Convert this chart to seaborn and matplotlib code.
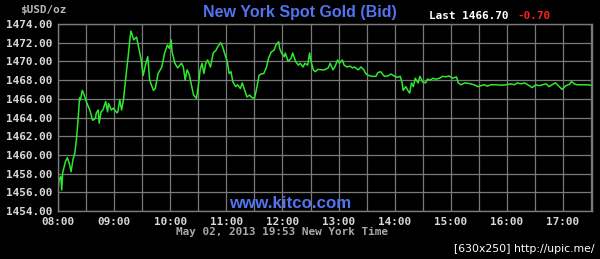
import matplotlib
matplotlib.use("Agg")
import matplotlib.pyplot as plt
import matplotlib.dates as mdates
import seaborn as sns
import pandas as pd
import numpy as np

# ---- data ----
session_start = "2013-05-02 08:00"
minutes_since_0800 = [0,1,3,4,5,8,10,12,14,16,
    18,20,22,23,24,26,28,31,34,37,
    40,41,43,44,46,48,51,53,54,57,
    59,63,64,66,68,70,72,73,75,77,
    78,80,81,84,86,89,91,94,96,98,
    102,104,107,111,114,117,119,121,122,125,
    128,132,134,136,138,140,143,145,148,150,
    152,154,156,158,160,163,166,169,171,174,
    176,178,181,183,185,187,190,192,195,197,
    200,202,205,207,210,212,215,217,220,223,
    225,228,231,233,236,237,239,242,243,246,
    249,251,254,257,259,262,264,267,269,271,
    273,275,278,282,285,289,291,294,296,299,
    301,304,306,309,312,315,317,321,324,327,
    329,332,336,340,342,345,347,349,353,356,
    360,363,366,368,369,372,374,376,378,380,
    382,385,387,390,393,395,398,401,404,408,
    411,415,418,422,426,428,431,435,439,
    445,449,452,456,459,463,468,474,479,484,
    488,491,495,499,504,507,511,515,518,522,
    525,529,532,536,539,543,547,549,552,555,
    561,566,570]
bid_price = [1456.25,1457.3,1457.7,1456.25,1458.1,1459.3,1459.7,1459.1,1458.2,1459.5,
    1460.2,1461.95,1464.5,1466.1,1465.9,1466.9,1466.4,1465.5,1464.8,1463.7,
    1463.9,1464.5,1464.8,1463.4,1464.6,1464.8,1465.7,1464.6,1465.5,1464.8,
    1465.0,1464.5,1464.6,1465.9,1464.8,1465.9,1467.8,1468.75,1470.5,1472.5,
    1473.25,1472.6,1472.3,1472.6,1471.6,1470.15,1468.5,1469.8,1470.5,1468.0,
    1466.9,1467.1,1468.7,1469.4,1470.9,1471.75,1471.4,1472.3,1471.0,1469.8,
    1469.3,1469.8,1469.4,1468.0,1469.1,1468.7,1467.3,1466.4,1466.05,1467.3,
    1469.1,1469.8,1468.7,1469.8,1470.15,1469.4,1470.9,1471.2,1471.6,1472.0,
    1471.6,1470.9,1470.0,1468.7,1468.9,1467.8,1467.3,1467.5,1467.1,1467.7,
    1466.8,1466.2,1466.4,1466.15,1466.05,1466.9,1468.5,1468.65,1468.7,1469.4,
    1470.3,1471.0,1471.2,1471.75,1472.1,1471.4,1470.9,1470.5,1470.9,1470.0,
    1470.3,1470.9,1470.0,1469.6,1469.8,1469.4,1469.8,1469.6,1470.9,1469.8,
    1469.1,1468.9,1469.15,1469.1,1469.1,1469.3,1469.8,1469.1,1469.4,1470.15,
    1469.8,1470.15,1469.6,1469.4,1469.5,1469.3,1469.4,1469.1,1469.4,1469.1,
    1468.7,1468.5,1468.4,1468.4,1468.8,1468.9,1468.65,1468.4,1468.45,1468.65,
    1468.4,1468.3,1468.4,1467.7,1466.9,1467.3,1466.9,1466.6,1467.7,1467.3,
    1468.2,1467.7,1468.4,1467.8,1467.7,1468.1,1468.0,1468.2,1468.1,1468.2,
    1468.4,1468.35,1468.45,1468.2,1468.35,1467.7,1467.5,1467.7,1467.65,
    1467.5,1467.3,1467.4,1467.5,1467.35,1467.5,1467.5,1467.45,1467.5,1467.6,
    1467.5,1467.7,1467.6,1467.7,1467.4,1467.2,1467.5,1467.4,1467.5,1467.6,
    1467.3,1467.55,1467.7,1467.3,1467.0,1467.4,1467.55,1467.85,1467.6,1467.5,
    1467.5,1467.5,1467.45]
y_ticks = [1454, 1456, 1458, 1460, 1462, 1464, 1466, 1468, 1470, 1472, 1474]
title_text = "New York Spot Gold (Bid)"
last_text = "Last 1466.70"
change_text = "-0.70"
unit_text = "$USD/oz"
stamp_text = "May 02, 2013 19:53 New York Time"
site_text = "www.kitco.com"
credit_text = "[630x250] http://upic.me/"

start = pd.Timestamp(session_start)
df = pd.DataFrame({
    "time": start + pd.to_timedelta(minutes_since_0800, unit="m"),
    "price": bid_price,
})

# ---- style ----
sns.set_style("dark")
plt.rcParams["font.family"] = ["DejaVu Sans"]
GRID = "#7a7a7a"
LABEL = "#d8d8d8"
BLUE = "#5274f0"
MONO = "DejaVu Sans Mono"
FS = 7.9

fig = plt.figure(figsize=(6.0, 2.59), dpi=100, facecolor="black")
ax = fig.add_axes([58/600, 48/259, 534/600, 187/259])
ax.set_facecolor("black")

sns.lineplot(data=df, x="time", y="price", ax=ax, color="#2ee82e",
             linewidth=1.1, estimator=None, sort=False)

ax.set_xlim(start, start + pd.Timedelta(minutes=571))
ax.set_ylim(y_ticks[0], y_ticks[-1])
ax.set_yticks(y_ticks)
ax.set_yticklabels([f"{v:.2f}" for v in y_ticks])
ax.xaxis.set_major_locator(mdates.HourLocator())
ax.xaxis.set_minor_locator(mdates.MinuteLocator(byminute=[30]))
ax.xaxis.set_major_formatter(mdates.DateFormatter("%H:%M"))

ax.grid(True, which="both", color=GRID, linewidth=0.9)
ax.set_axisbelow(True)
for s in ax.spines.values():
    s.set_visible(True)
    s.set_color(GRID)
    s.set_linewidth(1.0)
ax.tick_params(axis="both", which="both", length=0, colors=LABEL)
ax.tick_params(axis="y", pad=4)
ax.tick_params(axis="x", pad=4)
for lab in ax.get_xticklabels() + ax.get_yticklabels():
    lab.set_fontfamily(MONO)
    lab.set_fontweight("bold")
    lab.set_fontsize(FS)
ax.set_xlabel("")
ax.set_ylabel("")

# ---- texts ----
fig.text(300/600, 1 - 12/259, title_text, ha="center", va="center",
         color=BLUE, fontsize=11.5, fontweight="bold", family="Liberation Sans")
fig.text(429/600, 1 - 16/259, last_text, ha="left", va="center",
         color="white", fontsize=FS, fontweight="bold", family=MONO)
fig.text(517/600, 1 - 16/259, change_text, ha="left", va="center",
         color="#ff2020", fontsize=FS, fontweight="bold", family=MONO)
fig.text(20/600, 1 - 10/259, unit_text, ha="left", va="center",
         color="#b8b8b8", fontsize=FS, fontweight="bold", family=MONO)
fig.text(290/600, 1 - 204/259, site_text, ha="center", va="center",
         color=BLUE, fontsize=12.2, fontweight="bold", family="Liberation Sans")
fig.text(176/600, 1 - 232/259, stamp_text, ha="left", va="center",
         color="#a8a8a8", fontsize=FS, fontweight="bold", family=MONO)
fig.text(595/600, 1 - 249/259, credit_text, ha="right", va="center",
         color="white", fontsize=7.8, family="DejaVu Sans")

fig.savefig("out.png", dpi=100, facecolor="black")
